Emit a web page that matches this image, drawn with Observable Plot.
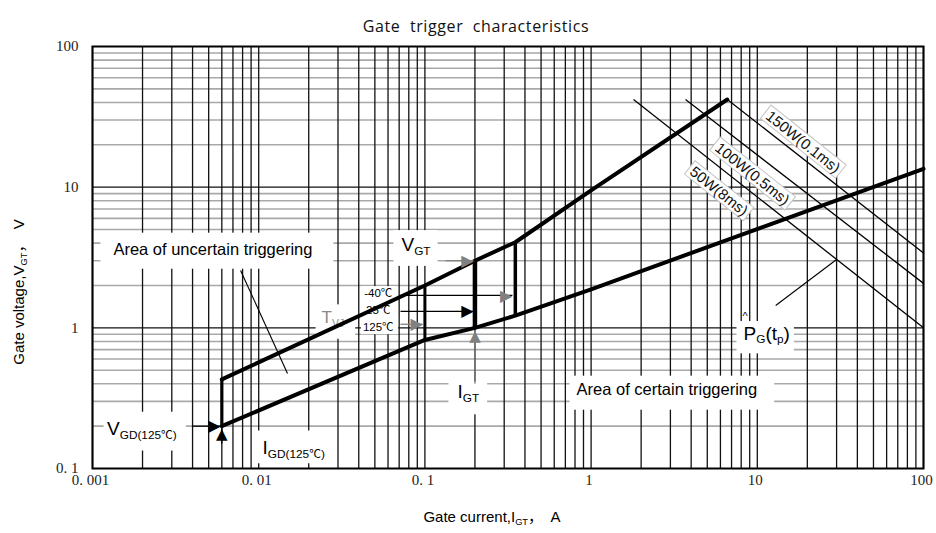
<!DOCTYPE html>
<html>
<head>
<meta charset="utf-8">
<script src="https://cdn.jsdelivr.net/npm/d3@7"></script>
<script src="https://cdn.jsdelivr.net/npm/@observablehq/plot@0.6"></script>
<style>
  body { margin: 0; background: #fff; }
  svg text { white-space: pre; }
</style>
</head>
<body>
<div id="chart"></div>
<script>
// ---------- data ----------
const chartTitle = "Gate  trigger  characteristics";
const xTitle = "Gate current,I_{GT}，  A";
const yTitle = "Gate voltage,V_{GT}，  V";

const xTickValues = [0.001, 0.01, 0.1, 1, 10, 100];
const xTickLabels = ["0. 001", "0. 01", "0. 1", "1", "10", "100"];
const yTickValues = [0.1, 1, 10, 100];
const yTickLabels = ["0. 1", "1", "10", "100"];
const gridDecadesX = [0.001, 0.01, 0.1, 1, 10];
const gridDecadesY = [0.1, 1, 10];
const gridSteps = [2, 3, 4, 5, 6, 7, 8, 9];
const gridMajorY = [1, 10];

// boundary of the trigger area
const upperI = [0.006, 0.1, 0.2, 0.35, 1, 6.6];
const upperV = [0.43, 2.0, 3.0, 4.06, 9.5, 42];
const lowerI = [0.006, 0.1, 0.2, 0.35, 1, 100];
const lowerV = [0.2, 0.82, 1.0, 1.22, 1.88, 13.5];
const igdI = [0.006];
const igdBottomV = [0.2];
const igdTopV = [0.43];

// I_GT at the three junction temperatures (125°C, 25°C, -40°C)
const igtI = [0.1, 0.2, 0.35];
const igtTopV = [2.0, 3.0, 4.06];
const igtBottomV = [0.82, 1.0, 1.22];

// peak gate power lines
const powerLabels = ["50W(8ms)", "100W(0.5ms)", "150W(0.1ms)"];
const powerStartI = [1.8, 3.7, 6.6];
const powerStartV = [42, 42, 42];
const powerEndI = [100, 100, 100];
const powerEndV = [1.0, 2.07, 3.4];
const powerLabelI = [5.86, 9.31, 18.8];
const powerLabelV = [9.35, 12.4, 20.9];

// annotations (data coordinates)
const areaNotes = [
  {t: "Area of uncertain triggering", i: 0.001336, v: 3.61},
  {t: "Area of certain triggering", i: 0.817, v: 0.365}
];
const symbolNotes = [
  {t: "V_{GT}", i: 0.0723, v: 3.88},
  {t: "I_{GT}", i: 0.157, v: 0.3475},
  {t: "V_{GD(125℃)}", i: 0.001223, v: 0.192},
  {t: "I_{GD(125℃)}", i: 0.01055, v: 0.139},
  {t: "P_{G}(t_{p})", i: 8.26, v: 0.912}
];
const tvjNote = [{t: "T_{VJ}", i: 0.0239, v: 1.176}];
const tempNotes = [
  {t: "-40℃", i: 0.0524, v: 1.756},
  {t: "25℃", i: 0.0524, v: 1.33},
  {t: "125℃", i: 0.0524, v: 1.006}
];
const hatNote = [{t: "^", i: 8.45, v: 1.205}];
const leaders = [
  {i1: 0.00778, v1: 2.56, i2: 0.0149, v2: 0.474},
  {i1: 12.9, v1: 1.44, i2: 30.0, v2: 3.06}
];
const arrowsRight = [
  {name: "VGD", i1: 0.0040, i2: 0.0059, v: 0.2},
  {name: "VGT", i1: 0.133, i2: 0.196, v: 3.0},
  {name: "-40", i1: 0.0713, i2: 0.336, v: 1.70},
  {name: "25", i1: 0.0713, i2: 0.196, v: 1.31},
  {name: "125", i1: 0.0713, i2: 0.097, v: 1.06}
];
const arrowsUp = [
  {name: "IGD", i: 0.006, v1: 0.15, v2: 0.194},
  {name: "IGT", i: 0.2, v1: 0.40, v2: 0.965}
];

// ---------- derived tables ----------
const gridX = gridDecadesX.flatMap(d => [1, ...gridSteps].map(k => k * d)).concat([100]);
const gridYMinor = gridDecadesY.flatMap(d => gridSteps.map(k => k * d));
const upper = upperI.map((x, k) => ({x, y: upperV[k]}));
const lower = lowerI.map((x, k) => ({x, y: lowerV[k]}));
const igdEdge = igdI.map((x, k) => ({x, y1: igdBottomV[k], y2: igdTopV[k]}));
const igt = igtI.map((x, k) => ({x, y1: igtBottomV[k], y2: igtTopV[k]}));
const power = powerLabels.map((t, k) => ({t, x1: powerStartI[k], y1: powerStartV[k], x2: powerEndI[k], y2: powerEndV[k], lx: powerLabelI[k], ly: powerLabelV[k]}));
const xTicks = xTickValues.map((x, k) => ({x, t: xTickLabels[k]}));
const yTicks = yTickValues.map((y, k) => ({y, t: yTickLabels[k]}));

const SANS = "Liberation Sans, Arial, Noto Sans CJK SC, sans-serif";
const SERIF = "Liberation Serif, Times New Roman, serif";
const GRAY = new Set(["VGT", "125", "IGT"]);
const igtWidths = [3, 4.5, 3.5];

const chart = Plot.plot({
  width: 936,
  height: 533,
  marginLeft: 92,
  marginRight: 13,
  marginTop: 46,
  marginBottom: 65,
  x: {type: "log", domain: [0.001, 100], axis: null},
  y: {type: "log", domain: [0.1, 100], axis: null},
  marks: [
    // grid
    Plot.ruleY(gridYMinor, {stroke: "#a9a9a9", strokeWidth: 1.6}),
    Plot.ruleX(gridX, {stroke: "#111", strokeWidth: 1.3}),
    Plot.ruleY(gridMajorY, {stroke: "#111", strokeWidth: 1.3}),
    // boxed labels
    Plot.text(areaNotes, {x: "i", y: "v", text: "t", textAnchor: "start", fontSize: 16.5, fontFamily: SANS, fill: "#000"}),
    Plot.text(symbolNotes, {x: "i", y: "v", text: "t", textAnchor: "start", fontSize: 19, fontFamily: SANS, fill: "#000"}),
    Plot.text(tvjNote, {x: "i", y: "v", text: "t", textAnchor: "start", fontSize: 17, fontFamily: SANS, fill: "#8a8a8a"}),
    Plot.text(tempNotes, {x: "i", y: "v", text: "t", textAnchor: "middle", fontSize: 11.5, fontFamily: SANS, fill: "#000"}),
    Plot.text(power, {x: "lx", y: "ly", text: "t", rotate: 38.5, fontSize: 15, fontFamily: SANS, fill: "#111"}),
    // curves
    Plot.line(upper, {x: "x", y: "y", stroke: "#000", strokeWidth: 4}),
    Plot.line(lower, {x: "x", y: "y", stroke: "#000", strokeWidth: 4}),
    Plot.link(igdEdge, {x1: "x", x2: "x", y1: "y1", y2: "y2", stroke: "#000", strokeWidth: 3.2}),
    Plot.link(igt, {x1: "x", x2: "x", y1: "y1", y2: "y2", stroke: "#000", strokeWidth: (d, k) => igtWidths[k]}),
    Plot.link(power, {x1: "x1", y1: "y1", x2: "x2", y2: "y2", stroke: "#000", strokeWidth: 1.3}),
    Plot.link(leaders, {x1: "i1", y1: "v1", x2: "i2", y2: "v2", stroke: "#000", strokeWidth: 1.1}),
    // arrows
    Plot.link(arrowsRight, {x1: "i1", x2: "i2", y1: "v", y2: "v", stroke: d => GRAY.has(d.name) ? "#808080" : "#000", strokeWidth: 1.3}),
    Plot.text(arrowsRight, {x: "i2", y: "v", text: () => "▶", textAnchor: "end", fontSize: 16, fontFamily: "DejaVu Sans", fill: d => (GRAY.has(d.name) || d.name === "-40") ? "#808080" : "#000"}),
    Plot.link(arrowsUp, {x1: "i", x2: "i", y1: "v1", y2: "v2", stroke: d => GRAY.has(d.name) ? "#808080" : "#000", strokeWidth: 1.3}),
    Plot.text(arrowsUp, {x: "i", y: "v2", text: () => "▲", lineAnchor: "top", fontSize: 15, fontFamily: "DejaVu Sans", fill: d => GRAY.has(d.name) ? "#808080" : "#000"}),
    Plot.text(hatNote, {x: "i", y: "v", text: "t", fontSize: 11, fontFamily: SANS, fill: "#000"}),
    // ticks
    Plot.text(xTicks, {x: "x", text: "t", frameAnchor: "bottom", textAnchor: "middle", dy: 16, dx: -2, fontSize: 15, fontFamily: SERIF, fill: "#222"}),
    Plot.text(yTicks, {y: "y", text: "t", frameAnchor: "left", dx: -14, textAnchor: "end", fontSize: 15, fontFamily: SERIF, fill: "#222"}),
    // titles
    Plot.text([xTitle], {text: d => d, frameAnchor: "bottom", textAnchor: "middle", dy: 53, dx: -16, fontSize: 15, fontFamily: SANS, fill: "#000"}),
    Plot.text([yTitle], {text: d => d, frameAnchor: "left", textAnchor: "middle", dx: -73, dy: 34.5, rotate: -90, fontSize: 15, fontFamily: SANS, fill: "#000"}),
    Plot.text([chartTitle], {text: d => d, frameAnchor: "top", textAnchor: "middle", dy: -26, dx: -32, fontSize: 16, fontFamily: "Open Sans, Lato, sans-serif", fill: "#111"}),
    Plot.frame({stroke: "#000", strokeWidth: 2})
  ]
});

document.getElementById("chart").append(chart);

// ---------- subscripts ----------
const NS = "http://www.w3.org/2000/svg";
chart.querySelectorAll("text").forEach(t => {
  const s = t.textContent;
  t.setAttribute("data-src", s);
  if (s === chartTitle) t.style.letterSpacing = "0.6px";
  if (!s.includes("_{")) return;
  const fs = parseFloat(getComputedStyle(t).fontSize);
  const sub = Math.round(fs * 0.62 * 10) / 10;
  const shift = fs * 0.2;
  while (t.firstChild) t.removeChild(t.firstChild);
  const add = (str, size, dy) => {
    const sp = document.createElementNS(NS, "tspan");
    sp.textContent = str;
    if (size) sp.setAttribute("font-size", size);
    if (dy) sp.setAttribute("dy", dy);
    t.appendChild(sp);
  };
  const re = /_\{([^}]*)\}/g;
  let last = 0, m, restore = false;
  while ((m = re.exec(s))) {
    if (m.index > last) { add(s.slice(last, m.index), null, restore ? -shift : 0); restore = false; }
    add(m[1], sub, restore ? 0 : shift);
    restore = true;
    last = re.lastIndex;
  }
  if (last < s.length) add(s.slice(last), null, restore ? -shift : 0);
});

// ---------- white label boxes ----------
const boxPads = {
  "Area of uncertain triggering": [13, 21, 7, 11],
  "Area of certain triggering": [7, 17, 4, 12],
  "V_{GT}": [8, 7, 4, 8],
  "I_{GT}": [9, 8, 0, 9],
  "V_{GD(125℃)}": [3.5, 9, 6, 9],
  "I_{GD(125℃)}": [6, 6, 7, 2],
  "P_{G}(t_{p})": [7, 4, 1.5, 7],
  "T_{VJ}": [6, 11, 4, 10],
  "-40℃": [3, 5, 1, 4],
  "25℃": [5, 7, 4, 4],
  "125℃": [2, 4, 4, 1]
};
const borderPads = [3, 3, 0, 0];
chart.querySelectorAll("text").forEach(t => {
  const src = t.getAttribute("data-src");
  const bordered = powerLabels.includes(src);
  const p = boxPads[src] || (bordered ? borderPads : null);
  if (!p) return;
  const b = t.getBBox();
  const r = document.createElementNS(NS, "rect");
  r.setAttribute("x", b.x - p[0]);
  r.setAttribute("y", b.y - p[2]);
  r.setAttribute("width", b.width + p[0] + p[1]);
  r.setAttribute("height", b.height + p[2] + p[3]);
  r.setAttribute("fill", "#fff");
  r.setAttribute("stroke", bordered ? "#c4c4c4" : "none");
  r.setAttribute("stroke-width", bordered ? 1 : 0);
  const tr = t.getAttribute("transform");
  if (tr) r.setAttribute("transform", tr);
  t.parentNode.insertBefore(r, t);
});
</script>
</body>
</html>
